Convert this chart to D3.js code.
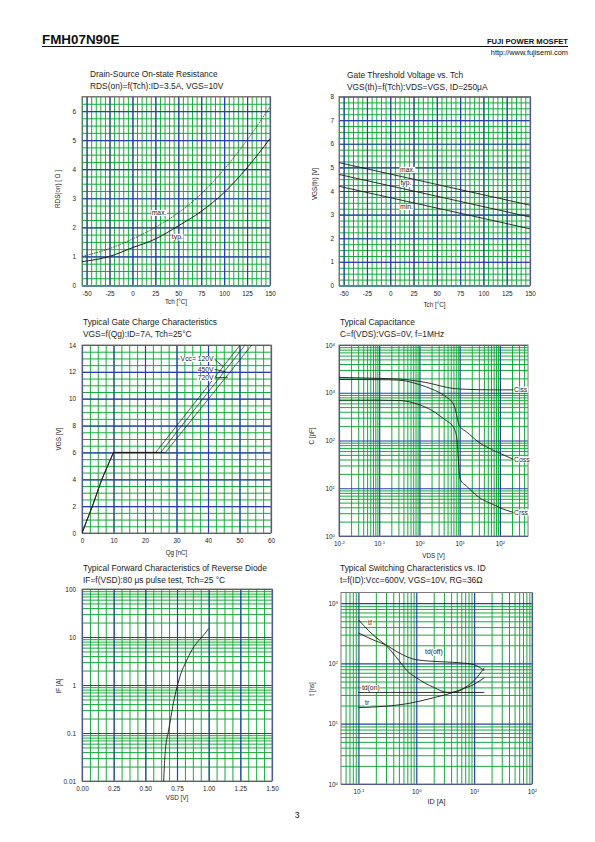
<!DOCTYPE html>
<html><head><meta charset="utf-8">
<script src="https://cdn.jsdelivr.net/npm/d3@7"></script>
<style>body{margin:0;background:#fff}</style>
</head><body><script>
// ================= DATA =================
// Chart 1: Drain-Source On-state Resistance vs Tch
const rdsTch = [-55,-25,0,25,50,75,100,125,150];
const rdsTyp = [0.82,1.0,1.3,1.6,2.05,2.55,3.2,4.05,5.05];
const rdsMax = [1.0,1.27,1.6,2.0,2.5,3.15,4.0,5.0,6.15];
const tchTicks = [-50,-25,0,25,50,75,100,125,150];
const rdsYTicks = [0,1,2,3,4,5,6];

// Chart 2: Gate threshold voltage vs Tch
const vthTch = [-55,150];
const vthMax = [5.2,3.4];
const vthTyp = [4.7,2.9];
const vthMin = [4.2,2.4];
const vthYTicks = [0,1,2,3,4,5,6,7,8];

// Chart 3: Gate charge
const qgV = [0,2,4,6,6,14];
const qg120 = [0,3.3,6.3,10,23.4,50.2];
const qg450 = [0,3.3,6.3,10,25.0,51.8];
const qg720 = [0,3.3,6.3,10,26.5,53.9];
const qgNames = ["Vcc= 120V","450V","720V"];
const qgXTicks = [0,10,20,30,40,50,60];
const qgYTicks = [0,2,4,6,8,10,12,14];

// Chart 4: Capacitance
const capVds = [0.01,0.1,0.3,1,2,3.2,5,6.4,7.5,8.5,9.2,9.8,10.5,15,30,70,100,220];
const ciss = [2100,2000,1940,1730,1550,1400,1290,1240,1220,1210,1205,1200,1195,1180,1160,1150,1150,1150];
const coss = [1900,1880,1840,1480,1200,1000,780,650,500,330,240,205,190,150,92,62,54,40];
const crss = [700,700,690,560,430,330,250,212,170,110,45,20,15,11,6.5,4.5,3.9,3.1];
const capNames = ["Ciss","Coss","Crss"];
const capXTicks = [0.01,0.1,1,10,100];
const capYTicks = [1,10,100,1000,10000];

// Chart 5: Reverse diode forward characteristic
const vsd = [0.645,0.65,0.66,0.68,0.70,0.72,0.75,0.78,0.82,0.87,0.93,0.96,1.0];
const ifA = [0.01,0.02,0.05,0.1,0.2,0.4,0.9,1.7,3,5.5,9,11,15];
const vsdTicks = [0,0.25,0.5,0.75,1.0,1.25,1.5];
const ifTicks = [0.01,0.1,1,10,100];

// Chart 6: Switching times vs ID
const idTf = [0.1,0.15,0.2,0.29,0.5,0.7,1,2,3.5,5,7,10,15];
const tTf  = [530,350,270,205,112,75,58,40,33,34,40,52,85];
const idTdoff = [0.1,0.2,0.29,0.5,1,3,6,10,15];
const tTdoff  = [320,235,205,150,115,106,102,95,76];
const idTdon = [0.1,15];
const tTdon  = [33,33];
const idTr = [0.1,0.3,0.6,1,2,3.5,6,10,15];
const tTr  = [18.5,19.5,21,23,27,31,37,45,58];
const swXTicks = [0.1,1,10,100];
const swYTicks = [1,10,100,1000];

// ================= DRAWING =================
const FONT = '"Liberation Sans", Arial, Helvetica, sans-serif';
const GREEN = '#18a83e', BLUE = '#2a3fa8', FRAME = '#7a7a7a', INK = '#1c1c1c';
const svg = d3.select('body').append('svg').attr('width',595).attr('height',842).style('display','block');
svg.append('rect').attr('width',595).attr('height',842).attr('fill','#fff');

function linSteps(a,b,step){const out=[];const n=Math.round((b-a)/step);for(let i=0;i<=n;i++)out.push(+(a+i*step).toFixed(6));return out;}
function logMinors(d0,d1){const out=[];for(let e=Math.floor(Math.log10(d0));e<=Math.ceil(Math.log10(d1));e++){for(let m=2;m<=9;m++){const v=m*Math.pow(10,e);if(v>d0*1.0001&&v<d1*0.9999)out.push(v);}}return out;}

let clipId=0;
function panel(p){
  const g = svg.append('g');
  const x = (p.xlog?d3.scaleLog():d3.scaleLinear()).domain(p.xd).range([p.l,p.r]);
  const y = (p.ylog?d3.scaleLog():d3.scaleLinear()).domain(p.yd).range([p.b,p.t]);
  const w = p.r-p.l, h = p.b-p.t;
  const grid = (axis, vals, color, sw, tr) => {
    g.append('g').attr('transform',tr).call(axis.tickValues(vals).tickFormat(''))
      .call(s=>{s.select('.domain').remove();s.selectAll('.tick line').attr('stroke',color).attr('stroke-width',sw);});
  };
  grid(d3.axisBottom(x).tickSize(-h), p.xMinor, GREEN, 1, `translate(0,${p.b})`);
  grid(d3.axisLeft(y).tickSize(-w), p.yMinor, GREEN, 1, `translate(${p.l},0)`);
  grid(d3.axisBottom(x).tickSize(-h), p.xMajor, BLUE, 1.2, `translate(0,${p.b})`);
  grid(d3.axisLeft(y).tickSize(-w), p.yMajor, BLUE, 1.2, `translate(${p.l},0)`);
  g.append('rect').attr('x',p.l).attr('y',p.t).attr('width',w).attr('height',h)
    .attr('fill','none').attr('stroke',FRAME).attr('stroke-width',1);

  // tick labels
  const fs = 6.4;
  const xl = g.append('g').attr('transform',`translate(0,${p.b})`)
    .call(d3.axisBottom(x).tickValues(p.xTicks).tickSize(0).tickPadding(p.xPad||5.5).tickFormat(p.xFmt||(d=>d)));
  const yl = g.append('g').attr('transform',`translate(${p.l},0)`)
    .call(d3.axisLeft(y).tickValues(p.yTicks).tickSize(0).tickPadding(p.yPad||5).tickFormat(p.yFmt||(d=>d)));
  [xl,yl].forEach(s=>{s.select('.domain').remove();s.selectAll('text').attr('font-family',FONT).attr('font-size',fs).attr('fill',INK);});
  const sup = s => s.selectAll('.tick text').each(function(d){
    const e = Math.round(Math.log10(d)); const t = d3.select(this); t.text(null);
    t.append('tspan').text('10');
    t.append('tspan').attr('font-size',4.3).attr('dy','-0.45em').text(e);
  });
  if(p.xSup) sup(xl);
  if(p.ySup) sup(yl);

  // titles
  const tt = g.append('text').attr('font-family',FONT).attr('font-size',8.4).attr('fill',INK);
  tt.append('tspan').attr('x',p.tx).attr('y',p.ty).text(p.title1);
  tt.append('tspan').attr('x',p.tx).attr('y',p.ty+11.5).text(p.title2);
  g.append('text').attr('font-family',FONT).attr('font-size',p.xtfs||6.3).attr('fill',INK)
    .attr('text-anchor','middle').attr('x',(p.l+p.r)/2).attr('y',p.b+p.xtDy).text(p.xTitle);
  g.append('text').attr('font-family',FONT).attr('font-size',6.3).attr('fill',INK)
    .attr('text-anchor','middle').attr('transform',`translate(${p.l-p.ytDx},${p.ytY}) rotate(-90)`).text(p.yTitle);

  const id='clip'+(clipId++);
  svg.append('clipPath').attr('id',id).append('rect').attr('x',p.l).attr('y',p.t).attr('width',w).attr('height',h);
  const cg = g.append('g').attr('clip-path',`url(#${id})`);
  return {g,cg,x,y};
}
function curve(P, xs, ys, opts={}){
  P.cg.append('path').datum(d3.zip(xs,ys))
    .attr('d', d3.line().x(d=>P.x(d[0])).y(d=>P.y(d[1])).curve(opts.curve||d3.curveMonotoneX))
    .attr('fill','none').attr('stroke',opts.color||INK).attr('stroke-width',opts.sw||0.9)
    .attr('stroke-dasharray',opts.dash||null);
}
function label(P, xv, yv, txt, anchor='start', fs=6.8){
  const t = P.g.append('text').attr('font-family',FONT).attr('font-size',fs).attr('fill',INK)
    .attr('text-anchor',anchor).attr('x',P.x(xv)).attr('y',P.y(yv)).attr('dy','0.35em').text(txt);
  const bb = t.node().getBBox();
  P.g.insert('rect', function(){return t.node();}).attr('x',bb.x-0.5).attr('y',bb.y+0.5).attr('width',bb.width+1).attr('height',bb.height-1).attr('fill','#fff');
  return t;
}

// Header
svg.append('text').attr('x',42).attr('y',44).attr('font-family',FONT).attr('font-weight','bold').attr('font-size',13.4).attr('fill','#111').text('FMH07N90E');
svg.append('line').attr('x1',42).attr('x2',568).attr('y1',46.5).attr('y2',46.5).attr('stroke','#111').attr('stroke-width',1);
svg.append('text').attr('x',568).attr('y',44).attr('text-anchor','end').attr('font-family',FONT).attr('font-weight','bold').attr('font-size',7.6).attr('fill','#111').text('FUJI POWER MOSFET');
svg.append('text').attr('x',568).attr('y',55).attr('text-anchor','end').attr('font-family',FONT).attr('font-size',7.4).attr('fill','#111').text('http://www.fujisemi.com');
svg.append('text').attr('x',297).attr('y',818).attr('text-anchor','middle').attr('font-family',FONT).attr('font-size',8.5).attr('fill','#111').text('3');

// Panel 1
const P1 = panel({l:82,r:270,t:96.5,b:285.5,xd:[-55,150],yd:[0,6.5],
  xMinor:linSteps(-55,150,5),yMinor:linSteps(0,6.5,0.25),xMajor:tchTicks,yMajor:rdsYTicks,
  xTicks:tchTicks,yTicks:rdsYTicks,yPad:6,
  tx:90,ty:77,title1:'Drain-Source On-state Resistance',title2:'RDS(on)=f(Tch):ID=3.5A, VGS=10V',
  xTitle:'Tch [°C]',xtDy:18,yTitle:'RDS(on) [ Ω ]',ytDx:22,ytY:189});
curve(P1, rdsTch, rdsMax, {dash:'1.6,0.9',sw:0.8,color:'#333'});
curve(P1, rdsTch, rdsTyp, {sw:1});
label(P1, 21, 2.49, 'max.');
label(P1, 43, 1.67, 'typ.');

// Panel 2
const P2 = panel({l:339,r:530,t:96.5,b:285.5,xd:[-55,150],yd:[0,8],
  xMinor:linSteps(-55,150,5),yMinor:linSteps(0,8,0.25),xMajor:tchTicks,yMajor:vthYTicks,
  xTicks:tchTicks,yTicks:vthYTicks,
  tx:347,ty:78,title1:'Gate Threshold Voltage vs. Tch',title2:'VGS(th)=f(Tch):VDS=VGS, ID=250μA',
  xTitle:'Tch [°C]',xtDy:21,yTitle:'VGS(th) [V]',ytDx:22,ytY:184});
curve(P2, vthTch, vthMax, {curve:d3.curveLinear});
curve(P2, vthTch, vthTyp, {curve:d3.curveLinear});
curve(P2, vthTch, vthMin, {curve:d3.curveLinear});
label(P2, 10.5, 4.89, 'max.');
label(P2, 11, 4.34, 'typ.');
label(P2, 10.5, 3.32, 'min.');

// Panel 3
const P3 = panel({l:82,r:271,t:345,b:533,xd:[0,60],yd:[0,14],
  xMinor:linSteps(0,60,2.5),yMinor:linSteps(0,14,0.5),xMajor:qgXTicks,yMajor:qgYTicks,
  xTicks:qgXTicks,yTicks:qgYTicks,yPad:6,
  tx:83,ty:325,title1:'Typical Gate Charge Characteristics',title2:'VGS=f(Qg):ID=7A, Tch=25°C',
  xTitle:'Qg [nC]',xtDy:22,yTitle:'VGS [V]',ytDx:21,ytY:439});
[qg120,qg450,qg720].forEach(q=>curve(P3, q, qgV, {curve:d3.curveLinear, sw:0.7}));
const qgLabY = [12.95,12.2,11.55];
const qgTarget = [[44.8,12.4],[45.6,12.0],[46.3,11.6]];
qgNames.forEach((n,i)=>{
  P3.g.append('line').attr('x1',P3.x(42.0)).attr('y1',P3.y(qgLabY[i]))
    .attr('x2',P3.x(qgTarget[i][0])).attr('y2',P3.y(qgTarget[i][1])).attr('stroke',INK).attr('stroke-width',0.8);
  label(P3, 41.8, qgLabY[i], n, 'end');
});

// Panel 4
const P4 = panel({l:339,r:528,t:345,b:536,xlog:true,ylog:true,xd:[0.01,500],yd:[1,10000],
  xMinor:logMinors(0.01,500),yMinor:logMinors(1,10000),xMajor:capXTicks,yMajor:capYTicks,
  xTicks:capXTicks,yTicks:capYTicks,xSup:true,ySup:true,yPad:4,
  tx:340,ty:325,title1:'Typical Capacitance',title2:'C=f(VDS):VGS=0V, f=1MHz',
  xTitle:'VDS [V]',xtDy:22,yTitle:'C [pF]',ytDx:25,ytY:436});
[ciss,coss,crss].forEach(c=>curve(P4, capVds, c));
label(P4, 225, 1150, capNames[0]);
label(P4, 225, 40, capNames[1]);
label(P4, 225, 3.1, capNames[2]);

// Panel 5
const P5 = panel({l:82,r:272,t:589,b:781,ylog:true,xd:[0,1.5],yd:[0.01,100],
  xMinor:linSteps(0,1.5,0.0625),yMinor:logMinors(0.01,100),xMajor:vsdTicks,yMajor:ifTicks,
  xTicks:vsdTicks,yTicks:ifTicks,xFmt:d3.format('.2f'),yFmt:d=>String(+d.toPrecision(1)),yPad:6,
  tx:83,ty:571,title1:'Typical Forward Characteristics of Reverse Diode',title2:'IF=f(VSD):80 μs pulse test, Tch=25 °C',
  xTitle:'VSD [V]',xtDy:19,yTitle:'IF [A]',ytDx:21,ytY:686});
curve(P5, vsd, ifA);

// Panel 6
const P6 = panel({l:341,r:532,t:592.5,b:784,xlog:true,ylog:true,xd:[0.05,100],yd:[1,1500],
  xMinor:logMinors(0.05,100),yMinor:logMinors(1,1500),xMajor:swXTicks,yMajor:swYTicks,
  xTicks:swXTicks,yTicks:swYTicks,xSup:true,ySup:true,yPad:3,
  tx:340,ty:571,title1:'Typical Switching Characteristics vs. ID',title2:'t=f(ID):Vcc=600V, VGS=10V, RG=36Ω',
  xTitle:'ID [A]',xtfs:7.2,xtDy:20,yTitle:'t [ns]',ytDx:27,ytY:689});
curve(P6, idTf, tTf);
curve(P6, idTdoff, tTdoff);
curve(P6, idTdon, tTdon, {curve:d3.curveLinear});
curve(P6, idTr, tTr);
label(P6, 0.147, 480, 'tf');
label(P6, 1.42, 155, 'td(off)');
label(P6, 0.115, 39, 'td(on)');
label(P6, 0.13, 22, 'tr');
</script></body></html>
